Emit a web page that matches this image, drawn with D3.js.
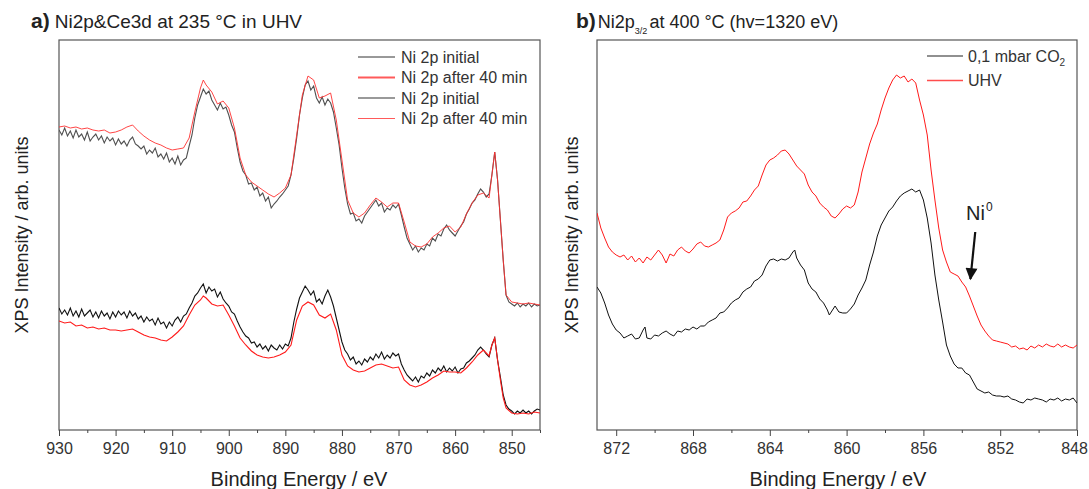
<!DOCTYPE html>
<html><head><meta charset="utf-8">
<script src="https://cdn.jsdelivr.net/npm/d3@7"></script>
<style>body{margin:0;background:#fff}text{font-family:"Liberation Sans",Arial,sans-serif}</style>
</head><body><svg id="c" width="1089" height="489"></svg>
<script>
// ---------- DATA ----------
// Panel a: "after 40 min" spectra (1 eV sampling)
const energyA = [930,929,928,927,926,925,924,923,922,921,920,919,918,917,916,915,914,913,912,911,910,909,908,907,906,905,904.5,904,903,902,901,900,899,898,897,896,895,894,893,892,891,890,889,888,887,886,885,884,883,882,881,880,879,878,877,876,875,874,873,872,871,870,869,868,867,866,865,864,863,862,861,860,859,858,857,856,855,854,853.5,853,852.5,852,851.5,851,850,849,848,847,846,845];
const upperAfter = [303,304,302,303,301,302,300,299,300,297,298,300,303,305,299,294,290,287,285,282,280,281,282,292,318,342,350,345,338,326,329,322,302,272,255,248,244,240,236,233,237,242,255,295,335,354,350,332,334,337,310,270,230,217,213,217,225,232,228,223,227,227,208,188,184,183,186,193,197,202,204,198,203,216,227,235,237,232,255,278,250,210,170,135,128,127,126,127,126,125];
const lowerAfter = [109,107,108,104,105,102,103,101,102,100,100,99,100,101,98,95,93,92,90,89,93,98,104,115,125,130,134,132,126,124,125,115,104,92,85,79,75,73,72,73,75,78,85,110,124,128,125,115,112,116,100,75,64,60,58,59,62,65,66,64,62,63,50,45,43,45,48,52,55,59,58,58,57,62,68,75,80,74,85,92,70,50,32,22,17,16,17,16,18,17];
// Panel a: "initial" spectra (0.5 eV sampling, noisier)
const energyA2 = [930,929.5,929,928.5,928,927.5,927,926.5,926,925.5,925,924.5,924,923.5,923,922.5,922,921.5,921,920.5,920,919.5,919,918.5,918,917.5,917,916.5,916,915.5,915,914.5,914,913.5,913,912.5,912,911.5,911,910.5,910,909.5,909,908.5,908,907.5,907,906.5,906,905.5,905,904.5,904,903.5,903,902.5,902,901.5,901,900.5,900,899.5,899,898.5,898,897.5,897,896.5,896,895.5,895,894.5,894,893.5,893,892.5,892,891.5,891,890.5,890,889.5,889,888.5,888,887.5,887,886.5,886,885.5,885,884.5,884,883.5,883,882.5,882,881.5,881,880.5,880,879.5,879,878.5,878,877.5,877,876.5,876,875.5,875,874.5,874,873.5,873,872.5,872,871.5,871,870.5,870,869.5,869,868.5,868,867.5,867,866.5,866,865.5,865,864.5,864,863.5,863,862.5,862,861.5,861,860.5,860,859.5,859,858.5,858,857.5,857,856.5,856,855.5,855,854.5,854,853.5,853,852.5,852,851.5,851,850.5,850,849.5,849,848.5,848,847.5,847,846.5,846,845.5,845];
const upperInitial = [300,295,302,294,299,292,300,293,296,290,298,289,293,296,290,294,287,293,289,292,285,291,286,289,284,290,293,286,284,281,284,276,280,277,282,273,276,271,277,268,272,266,274,265,270,272,284,295,312,325,333,341,336,339,330,325,320,327,321,323,315,305,298,282,268,259,255,246,247,240,243,234,237,229,233,222,226,229,233,236,240,244,255,272,292,315,332,345,349,340,344,332,327,333,325,331,327,318,302,285,262,242,226,216,217,209,211,207,214,218,222,226,230,224,227,218,222,220,225,222,226,215,203,192,186,180,184,178,182,180,186,184,192,189,196,194,201,205,200,197,194,199,204,208,216,221,227,230,236,241,238,233,236,255,278,250,210,170,135,128,126,124,127,123,126,124,127,123,126,124,125];
const lowerInitial = [122,116,120,115,122,114,119,113,121,114,117,120,113,118,112,119,114,117,111,118,113,119,115,118,112,119,114,117,111,114,108,113,109,111,105,112,106,108,102,108,104,110,113,108,114,116,122,127,134,137,142,146,137,143,139,141,133,138,131,127,124,118,116,109,103,98,94,92,87,88,83,86,81,84,79,85,82,80,85,81,86,84,92,108,121,132,138,144,140,135,139,128,131,126,134,140,133,124,112,100,88,80,76,70,73,66,69,65,71,68,73,70,76,72,78,71,75,72,77,74,76,66,60,55,52,49,53,48,54,52,57,54,60,57,62,59,64,58,62,59,63,57,61,62,67,69,72,75,80,83,80,76,73,85,92,70,53,35,25,21,19,16,19,17,20,17,19,16,19,21,20];

// Panel b
const energyUHV = [873.0,872.8,872.6,872.4,872.2,872.0,871.8,871.6,871.4,871.2,871.0,870.8,870.6,870.4,870.2,870.0,869.8,869.6,869.4,869.2,869.0,868.8,868.6,868.4,868.2,868.0,867.8,867.6,867.4,867.2,867.0,866.8,866.6,866.4,866.2,866.0,865.8,865.6,865.4,865.2,865.0,864.8,864.6,864.4,864.2,864.0,863.8,863.6,863.4,863.2,863.0,862.8,862.6,862.4,862.2,862.0,861.8,861.6,861.4,861.2,861.0,860.8,860.6,860.4,860.2,860.0,859.8,859.6,859.4,859.2,859.0,858.8,858.6,858.4,858.2,858.0,857.8,857.6,857.4,857.2,857.0,856.8,856.6,856.4,856.2,856.0,855.8,855.6,855.4,855.2,855.0,854.8,854.6,854.4,854.2,854.0,853.8,853.6,853.4,853.2,853.0,852.8,852.6,852.4,852.2,852.0,851.8,851.6,851.4,851.2,851.0,850.8,850.6,850.4,850.2,850.0,849.8,849.6,849.4,849.2,849.0,848.8,848.6,848.4,848.2,848.0];
const uhv = [217,202,192,183,178,175,173,175,170,174,168,172,167,173,170,175,180,175,167,176,174,180,183,179,177,181,186,188,184,183,185,187,190,200,213,217,219,222,228,229,234,240,244,255,265,270,272,275,279,280,276,270,264,260,256,245,238,234,227,223,220,214,212,216,221,224,222,225,238,258,272,286,297,306,320,332,342,350,355,352,354,348,351,347,330,315,295,260,230,202,180,168,158,156,154,148,143,134,124,114,105,99,94,90,89,88,87,86,83,84,81,82,80,84,82,85,83,86,84,83,86,83,85,83,82,85];
const energyCO2 = [873.0,872.8,872.6,872.4,872.2,872.0,871.8,871.6,871.4,871.2,871.0,870.8,870.6,870.5,870.4,870.2,870.0,869.8,869.6,869.4,869.2,869.0,868.8,868.6,868.4,868.2,868.0,867.8,867.6,867.4,867.2,867.0,866.8,866.6,866.4,866.2,866.0,865.8,865.6,865.4,865.2,865.0,864.8,864.6,864.4,864.2,864.0,863.8,863.6,863.4,863.2,863.0,862.8,862.7,862.6,862.4,862.2,862.0,861.8,861.6,861.4,861.2,861.0,860.9,860.8,860.6,860.4,860.2,860.0,859.8,859.6,859.4,859.2,859.0,858.8,858.6,858.4,858.2,858.0,857.8,857.6,857.4,857.2,857.0,856.8,856.6,856.4,856.2,856.0,855.8,855.6,855.4,855.2,855.0,854.8,854.6,854.4,854.2,854.0,853.8,853.6,853.4,853.2,853.0,852.8,852.6,852.4,852.2,852.0,851.8,851.6,851.4,851.2,851.0,850.8,850.6,850.4,850.2,850.0,849.8,849.6,849.4,849.2,849.0,848.8,848.6,848.4,848.2,848.0];
const co2 = [143,137,127,115,106,100,97,92,94,96,91,92,100,103,92,91,95,94,97,99,96,94,99,98,101,100,103,101,104,104,108,110,112,117,118,122,127,130,132,138,141,143,149,151,155,164,170,171,169,171,170,172,178,180,172,165,160,147,141,138,131,127,120,115,118,124,118,117,117,121,126,135,142,150,165,178,194,205,212,219,223,229,234,237,239,241,238,240,230,212,187,155,130,108,85,74,66,62,62,57,55,48,41,39,37,38,35,34,34,33,34,31,30,28,27,31,30,32,31,30,28,31,30,32,29,31,30,32,27];

const ticksA = [930,920,910,900,890,880,870,860,850];
const minorA = [925,915,905,895,885,875,865,855,845];
const ticksB = [872,868,864,860,856,852,848];
const minorB = [870,866,862,858,854,850];

const legendA = ["Ni 2p initial","Ni 2p after 40 min","Ni 2p initial","Ni 2p after 40 min"];
const legendB = ["0,1 mbar CO","UHV"];

// ---------- DRAW ----------
const svg = d3.select("#c");
const plotTop = 40, plotBottom = 430;
const y = d3.scaleLinear().domain([0,390]).range([plotBottom, plotTop]);

function panel(left, right, id) {
  svg.append("clipPath").attr("id", id).append("rect")
    .attr("x", left).attr("y", plotTop).attr("width", right-left).attr("height", plotBottom-plotTop);
  svg.append("rect").attr("x", left).attr("y", plotTop).attr("width", right-left).attr("height", plotBottom-plotTop)
    .attr("fill","none").attr("stroke","#555").attr("stroke-width",1.2);
}
function axis(x, major, minor) {
  const g = svg.append("g").attr("transform", `translate(0,${plotBottom})`);
  g.call(d3.axisBottom(x).tickValues(major).tickSize(6).tickSizeOuter(0).tickPadding(7).tickFormat(d3.format("d")));
  g.select(".domain").remove();
  g.selectAll("line").attr("stroke","#444");
  g.selectAll("text").attr("font-size",16).attr("fill","#333").attr("font-family","Liberation Sans, Arial, sans-serif");
  const g2 = svg.append("g").attr("transform", `translate(0,${plotBottom})`);
  g2.call(d3.axisBottom(x).tickValues(minor).tickSize(3).tickFormat(""));
  g2.select(".domain").remove();
  g2.selectAll("line").attr("stroke","#444");
  return g;
}

// Panel a
const xA = d3.scaleLinear().domain([930,845]).range([59,540]);
panel(59, 540, "clipA");
axis(xA, ticksA, minorA);
const lineOf = (xs, xe) => s => d3.line().x((d,i)=>xs(xe[i])).y(d=>y(d))(s);
const lA = lineOf(xA, energyA), lA2 = lineOf(xA, energyA2);
const gA = svg.append("g").attr("clip-path","url(#clipA)");
gA.append("path").attr("d", lA2(upperInitial)).attr("fill","none").attr("stroke","#505050").attr("stroke-width",1.1);
gA.append("path").attr("d", lA(upperAfter)).attr("fill","none").attr("stroke","#ff3030").attr("stroke-width",0.9);
gA.append("path").attr("d", lA2(lowerInitial)).attr("fill","none").attr("stroke","#111").attr("stroke-width",1.1);
gA.append("path").attr("d", lA(lowerAfter)).attr("fill","none").attr("stroke","#ff1a1a").attr("stroke-width",1.1);

// legend a
const legStylesA = [["#333",1],["#ff5a5a",2],["#777",1.5],["#ff5a5a",1.2]];
legendA.forEach((t,i)=>{
  const yy = 57 + i*20.5;
  svg.append("line").attr("x1",358).attr("x2",395).attr("y1",yy).attr("y2",yy)
    .attr("stroke",legStylesA[i][0]).attr("stroke-width",legStylesA[i][1]);
  svg.append("text").attr("x",401).attr("y",yy+5.5).attr("font-size",16).attr("fill","#333").text(t);
});

// titles a
const tA = svg.append("text").attr("x",31).attr("y",28).attr("fill","#222");
tA.append("tspan").attr("font-size",21).attr("font-weight","bold").text("a)");
tA.append("tspan").attr("dx",5).attr("font-size",19).text("Ni2p&Ce3d at 235 °C in UHV");
svg.append("text").attr("x",299).attr("y",486).attr("text-anchor","middle").attr("font-size",20).attr("fill","#222").text("Binding Energy / eV");
svg.append("text").attr("transform","translate(28,235) rotate(-90)").attr("text-anchor","middle").attr("font-size",18).attr("fill","#222").text("XPS Intensity / arb. units");

// Panel b
const xB = d3.scaleLinear().domain([873,848]).range([597,1077]);
panel(597, 1077, "clipB");
const axB = axis(xB, ticksB, minorB);
axB.selectAll(".tick").filter(d => d === 848).select("text").attr("dx", -3);
const gB = svg.append("g").attr("clip-path","url(#clipB)");
gB.append("path").attr("d", lineOf(xB, energyUHV)(uhv)).attr("fill","none").attr("stroke","#ff1a1a").attr("stroke-width",1);
gB.append("path").attr("d", lineOf(xB, energyCO2)(co2)).attr("fill","none").attr("stroke","#111").attr("stroke-width",1);

// legend b
const legColB = ["#222","#ff4d4d"];
legendB.forEach((t,i)=>{
  const yy = 56 + i*24.5;
  svg.append("line").attr("x1",927).attr("x2",963).attr("y1",yy).attr("y2",yy).attr("stroke",legColB[i]).attr("stroke-width",i?1.6:1.2);
  const tt = svg.append("text").attr("x",968).attr("y",yy+5.5).attr("font-size",16).attr("fill","#333").text(t);
  if (i===0) tt.append("tspan").attr("font-size",10).attr("dy",4).text("2");
});

// Ni0 annotation
const ann = svg.append("text").attr("x",966).attr("y",220).attr("font-size",20).attr("fill","#222").text("Ni");
ann.append("tspan").attr("font-size",12).attr("dy",-9).attr("dx",1).text("0");
svg.append("defs").append("marker").attr("id","arr").attr("viewBox","0 0 10 10").attr("refX",9).attr("refY",5)
  .attr("markerWidth",18).attr("markerHeight",12).attr("orient","auto").attr("markerUnits","userSpaceOnUse")
  .append("path").attr("d","M0,0 L10,5 L0,10 Z").attr("fill","#111");
svg.append("line").attr("x1",xB(853.3)).attr("y1",232).attr("x2",xB(853.55)).attr("y2",279)
  .attr("stroke","#111").attr("stroke-width",2.2).attr("marker-end","url(#arr)");

// titles b
const tB = svg.append("text").attr("x",576).attr("y",28).attr("fill","#222");
tB.append("tspan").attr("font-size",21).attr("font-weight","bold").text("b)");
tB.append("tspan").attr("dx",2).attr("font-size",18).text("Ni2p");
tB.append("tspan").attr("font-size",9).attr("dy",6).text("3/2");
tB.append("tspan").attr("font-size",18).attr("dy",-6).attr("dx",2).text("at 400 °C (hv=1320 eV)");
svg.append("text").attr("x",838).attr("y",486).attr("text-anchor","middle").attr("font-size",20).attr("fill","#222").text("Binding Energy / eV");
svg.append("text").attr("transform","translate(578,235) rotate(-90)").attr("text-anchor","middle").attr("font-size",18).attr("fill","#222").text("XPS Intensity / arb. units");
</script></body></html>
